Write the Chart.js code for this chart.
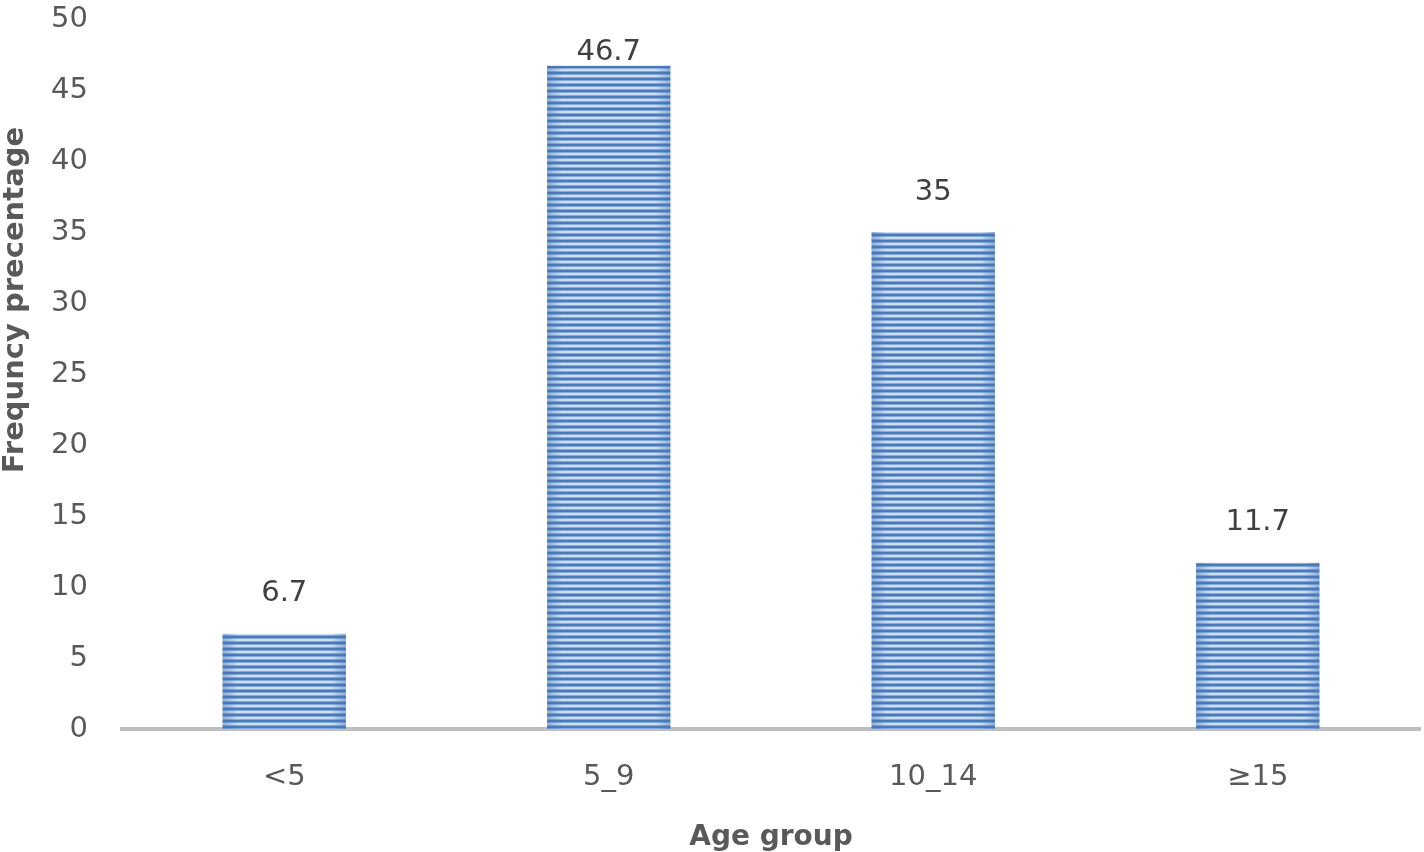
<!DOCTYPE html>
<html>
<head>
<meta charset="utf-8">
<script src="https://cdn.jsdelivr.net/npm/chart.js@4/dist/chart.umd.min.js"></script>
<style>
  html, body { margin: 0; padding: 0; background: #fff; }
  #wrap { width: 1424px; height: 852px; }
</style>
</head>
<body>
<div id="wrap"><canvas id="grafico"></canvas></div>
<script>
// dados
const categorias = ['<5', '5_9', '10_14', '≥15'];
const frequencias = [6.7, 46.7, 35, 11.7];
const ticksY = [0, 5, 10, 15, 20, 25, 30, 35, 40, 45, 50];
const tituloY = 'Frequncy precentage';

const fonte = '"DejaVu Sans", "Open Sans", sans-serif';
const corTexto = '#595959';

// listras horizontais das barras
const criarPadrao = (ctx) => {
    const c = document.createElement('canvas');
    c.width = 4;
    c.height = 6;
    const p = c.getContext('2d');
    p.fillStyle = '#cbdef3';
    p.fillRect(0, 0, 4, 6);
    p.fillStyle = '#4a7aba';
    p.fillRect(0, 0, 4, 2);
    p.fillStyle = '#86abd8';
    p.fillRect(0, 2, 4, 1);
    p.fillRect(0, 5, 4, 1);
    return ctx.createPattern(c, 'repeat');
};

const rotulosPlugin = {
    id: 'rotulos',
    afterDatasetsDraw(chart) {
        const ctx = chart.ctx;
        const meta = chart.getDatasetMeta(0);
        ctx.save();
        // leve sombreamento nas bordas das barras
        meta.data.forEach((bar) => {
            const w = bar.width;
            const x0 = bar.x - w / 2;
            const g = ctx.createLinearGradient(x0, 0, x0 + w, 0);
            g.addColorStop(0, 'rgba(70,115,180,0.45)');
            g.addColorStop(0.12, 'rgba(70,115,180,0)');
            g.addColorStop(0.88, 'rgba(70,115,180,0)');
            g.addColorStop(1, 'rgba(70,115,180,0.45)');
            ctx.fillStyle = g;
            ctx.fillRect(x0, bar.y, w, bar.base - bar.y);
        });
        ctx.font = '29px ' + fonte;
        ctx.fillStyle = '#404040';
        ctx.textAlign = 'center';
        ctx.textBaseline = 'middle';
        meta.data.forEach((bar, i) => {
            const y = Math.max(bar.y - 40, chart.chartArea.top + 33);
            ctx.fillText(String(frequencias[i]), bar.x, y);
        });

        // titulo do eixo y (um pouco acima do centro, como no original)
        ctx.font = 'bold 29px ' + fonte;
        ctx.fillStyle = corTexto;
        ctx.translate(15, chart.chartArea.top + 281);
        ctx.rotate(-Math.PI / 2);
        ctx.fillText(tituloY, 0, 0);
        ctx.restore();
    }
};

const ctx = document.getElementById('grafico').getContext('2d');
const padrao = criarPadrao(ctx);

new Chart(ctx, {
    type: 'bar',
    data: {
        labels: categorias,
        datasets: [{
            data: frequencias,
            backgroundColor: padrao,
            borderWidth: 0,
            barPercentage: 0.38,
            categoryPercentage: 1
        }]
    },
    options: {
        responsive: true,
        maintainAspectRatio: false,
        animation: false,
        layout: { padding: { top: 19, right: 4, left: 0, bottom: 0 } },
        plugins: {
            legend: { display: false },
            tooltip: { enabled: false }
        },
        scales: {
            x: {
                grid: { display: false },
                border: { color: '#bfbfbf', width: 4 },
                ticks: {
                    color: corTexto,
                    font: { family: fonte, size: 29 },
                    padding: 23
                },
                title: {
                    display: true,
                    text: 'Age group',
                    color: corTexto,
                    font: { family: fonte, size: 28, weight: 'bold' },
                    padding: { top: 0, bottom: -3 }
                },
                afterFit: (axis) => {
                    axis.height = 123;
                    axis.paddingLeft = 0;
                    axis.paddingRight = 0;
                }
            },
            y: {
                min: 0,
                max: 50,
                afterBuildTicks: (axis) => {
                    axis.ticks = ticksY.map(v => ({ value: v }));
                },
                grid: { display: false },
                border: { display: false },
                ticks: {
                    color: corTexto,
                    font: { family: fonte, size: 29 },
                    padding: 26
                },
                afterFit: (axis) => {
                    axis.width = 122;
                    axis.paddingTop = 0;
                    axis.paddingBottom = 0;
                }
            }
        }
    },
    plugins: [rotulosPlugin]
});
</script>
</body>
</html>
